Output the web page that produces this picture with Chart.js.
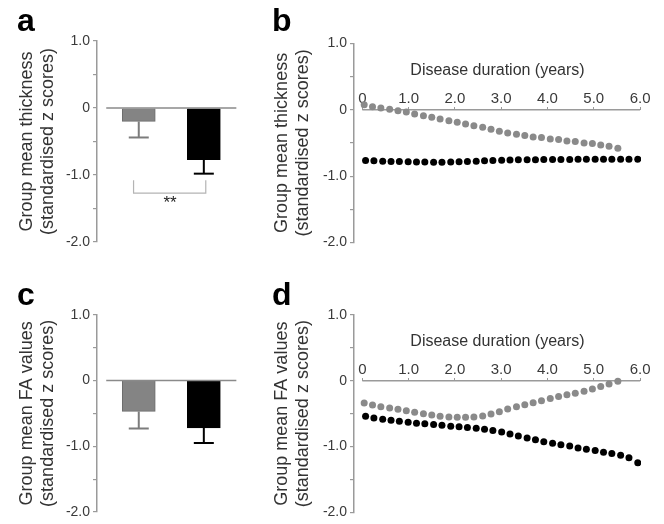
<!DOCTYPE html>
<html><head><meta charset="utf-8">
<script src="https://cdn.jsdelivr.net/npm/chart.js@4.4.1/dist/chart.umd.min.js"></script>
<style>
html,body{margin:0;padding:0;background:#fff;}
#wrap{position:relative;width:664px;height:524px;overflow:hidden;background:#fff;}
canvas{position:absolute;}
</style></head><body>
<div id="wrap">
<canvas id="ca" width="255" height="262" style="left:0px;top:0px"></canvas>
<canvas id="cb" width="409" height="262" style="left:255px;top:0px"></canvas>
<canvas id="cc" width="255" height="250" style="left:0px;top:274px"></canvas>
<canvas id="cd" width="409" height="250" style="left:255px;top:274px"></canvas>
</div>
<script>
// ---------- data ----------
const barCategories = ['Group 1', 'Group 2'];
const thicknessMeans = [-0.20, -0.77];
const thicknessErrLow = [-0.44, -0.98];
const faMeans = [-0.47, -0.72];
const faErrLow = [-0.73, -0.95];

const sigBracketX = [0.92, 0.92, 2.03, 2.03];
const sigBracketY = [-1.08, -1.27, -1.27, -1.08];
const sigLabel = '**';
const sigLabelPos = [1.48, -1.43];

const yTickValues = [-2, -1.5, -1, -0.5, 0, 0.5, 1];
const yTickLabels = ['-2.0', '', '-1.0', '', '0', '', '1.0'];
const xTickValues = [0, 1, 2, 3, 4, 5, 6];
const xTickLabels = ['0', '1.0', '2.0', '3.0', '4.0', '5.0', '6.0'];

const durationGray = [0.04, 0.22, 0.40, 0.59, 0.77, 0.95, 1.13, 1.32, 1.50, 1.68, 1.87, 2.05, 2.23, 2.41, 2.60, 2.78,
  2.96, 3.14, 3.33, 3.51, 3.69, 3.87, 4.06, 4.24, 4.42, 4.60, 4.79, 4.97, 5.15, 5.33, 5.52];
const durationBlack = [0.07, 0.25, 0.44, 0.62, 0.80, 0.99, 1.17, 1.35, 1.54, 1.72, 1.91, 2.09, 2.27, 2.46, 2.64, 2.82,
  3.01, 3.19, 3.37, 3.56, 3.74, 3.92, 4.11, 4.29, 4.48, 4.66, 4.84, 5.03, 5.21, 5.39, 5.58, 5.76, 5.95];

const thickGray = [0.076, 0.045, 0.025, 0.005, -0.015, -0.035, -0.065, -0.09, -0.115, -0.14, -0.165, -0.19, -0.215, -0.24,
  -0.265, -0.295, -0.325, -0.35, -0.37, -0.39, -0.41, -0.42, -0.44, -0.45, -0.47, -0.48, -0.50, -0.51, -0.53, -0.55, -0.58];
const thickBlack = [-0.765, -0.77, -0.775, -0.78, -0.782, -0.785, -0.787, -0.789, -0.79, -0.79, -0.788, -0.785, -0.78,
  -0.775, -0.77, -0.765, -0.76, -0.757, -0.755, -0.753, -0.752, -0.751, -0.75, -0.75, -0.749, -0.748, -0.748, -0.747,
  -0.747, -0.746, -0.746, -0.745, -0.745];

const faGray = [-0.34, -0.37, -0.395, -0.415, -0.435, -0.455, -0.48, -0.50, -0.52, -0.54, -0.55, -0.555, -0.555, -0.55,
  -0.535, -0.505, -0.47, -0.43, -0.395, -0.365, -0.335, -0.305, -0.27, -0.24, -0.215, -0.19, -0.16, -0.125, -0.09, -0.05, -0.01];
const faBlack = [-0.54, -0.565, -0.585, -0.60, -0.615, -0.63, -0.645, -0.655, -0.665, -0.675, -0.69, -0.70, -0.71, -0.72,
  -0.735, -0.755, -0.78, -0.81, -0.84, -0.87, -0.895, -0.925, -0.95, -0.97, -0.99, -1.02, -1.04, -1.06, -1.085, -1.105,
  -1.13, -1.17, -1.245];

const titleThickness = ['Group mean thickness', '(standardised z scores)'];
const titleFA = ['Group mean FA values', '(standardised z scores)'];
const xTitle = 'Disease duration (years)';

// ---------- styles ----------
const FONT = "'Liberation Sans', Arial, Helvetica, sans-serif";
Chart.defaults.font.family = FONT;
Chart.defaults.color = '#333';
Chart.defaults.animation = false;

const GRAY = '#8a8a8a';
const AXIS = '#9a9a9a';
const barFill = ['#848484', '#000000'];
const barEdge = ['#6c6c6c', '#000000'];
const errColor = ['#7c7c7c', '#000000'];

function yAxis(titleLines, yWidth) {
  return {
    type: 'linear', min: -2, max: 1, position: 'left',
    afterBuildTicks: s => { s.ticks = yTickValues.map(v => ({ value: v })); },
    afterFit: s => { s.width = yWidth; },
    grid: { display: true, drawOnChartArea: false, drawTicks: true, tickLength: 4, color: AXIS, lineWidth: 1.2 },
    border: { display: true, color: AXIS, width: 1.5 },
    ticks: { padding: 3, font: { size: 14 }, color: '#3a3a3a', autoSkip: false, callback: (v, i) => yTickLabels[i] },
    title: { display: true, text: titleLines, font: { size: 18, lineHeight: 1.15 }, color: '#333', padding: { top: 0, bottom: 0 } }
  };
}

function letterTitle(letter, padBottom) {
  return { display: true, text: letter, align: 'start', color: '#000',
    font: { size: 32, weight: 'bold', lineHeight: 1.2 }, padding: { top: 3, bottom: padBottom } };
}

const sigTextPlugin = {
  id: 'sigText',
  afterDatasetsDraw(chart, args, opts) {
    if (!opts || !opts.text) return;
    const { ctx, scales } = chart;
    ctx.save();
    ctx.font = '17px ' + FONT;
    ctx.fillStyle = '#222';
    ctx.textAlign = 'center';
    ctx.textBaseline = 'middle';
    ctx.fillText(opts.text, scales.x.getPixelForValue(opts.pos[0]), scales.y.getPixelForValue(opts.pos[1]));
    ctx.restore();
  }
};

function barPanel(id, letter, titleLines, means, errLow, withSig, padBottomTitle, layoutBottom) {
  const xs = barCategories.map((_, i) => i + 1);
  const datasets = [
    { type: 'line', data: [{ x: 0.5, y: 0 }, { x: barCategories.length + 0.5, y: 0 }],
      borderColor: GRAY, borderWidth: 1.5, pointRadius: 0, order: 1 },
    { type: 'bar', data: xs.map((x, i) => ({ x, y: means[i] })), backgroundColor: barFill, borderColor: barEdge,
      borderWidth: 1, barThickness: 33, grouped: false, order: 5 }
  ];
  xs.forEach((x, i) => {
    datasets.push({ type: 'line', data: [{ x, y: means[i] }, { x, y: errLow[i] }], borderColor: errColor[i],
      borderWidth: 2, pointStyle: 'line', pointRadius: [0, 10], pointBorderWidth: 2, pointBorderColor: errColor[i],
      pointBackgroundColor: errColor[i], order: 3 });
  });
  if (withSig) {
    datasets.push({ type: 'line', data: sigBracketX.map((x, i) => ({ x, y: sigBracketY[i] })),
      borderColor: '#b4b4b4', borderWidth: 1.2, pointRadius: 0, order: 4 });
  }
  new Chart(document.getElementById(id), {
    type: 'bar',
    data: { datasets },
    plugins: [sigTextPlugin],
    options: {
      responsive: false, events: [],
      layout: { padding: { left: 17, right: 18, top: 0, bottom: layoutBottom } },
      scales: {
        x: { type: 'linear', min: 0.358, max: 2.51, offset: false, display: false },
        y: yAxis(titleLines, 80)
      },
      plugins: { legend: { display: false }, tooltip: { enabled: false }, title: letterTitle(letter, padBottomTitle),
        sigText: withSig ? { text: sigLabel, pos: sigLabelPos } : {} }
    }
  });
}

function scatterPanel(id, letter, titleLines, grayVals, blackVals, padBottomTitle, layoutBottom) {
  const datasets = [
    { type: 'line', data: [{ x: xTickValues[0], y: 0 }, { x: xTickValues[xTickValues.length - 1], y: 0 }],
      borderColor: AXIS, borderWidth: 1.5, pointRadius: 0, order: 10 },
    { type: 'scatter', data: durationGray.map((x, i) => ({ x, y: grayVals[i] })), backgroundColor: GRAY,
      borderWidth: 0, pointRadius: 3.5, order: 2 },
    { type: 'scatter', data: durationBlack.map((x, i) => ({ x, y: blackVals[i] })), backgroundColor: '#000',
      borderWidth: 0, pointRadius: 3.5, order: 1 }
  ];
  new Chart(document.getElementById(id), {
    type: 'scatter',
    data: { datasets },
    options: {
      responsive: false, events: [],
      layout: { padding: { left: 17, right: 23, top: 0, bottom: layoutBottom } },
      scales: {
        x: {
          type: 'linear', min: -0.18, max: 6.02, position: { y: 0 },
          afterBuildTicks: s => { s.ticks = xTickValues.map(v => ({ value: v })); },
          afterFit: s => { s.height = 0; },
          grid: { display: true, drawOnChartArea: false, drawTicks: true, tickLength: -3, color: AXIS, lineWidth: 1 },
          border: { display: false },
          ticks: { padding: -17, font: { size: 15 }, color: '#3a3a3a', maxRotation: 0, autoSkip: false,
            callback: (v, i) => xTickLabels[i] },
          title: { display: true, text: xTitle, font: { size: 16, lineHeight: 1.2 }, color: '#333',
            padding: { top: 0, bottom: 29.4 } }
        },
        y: yAxis(titleLines, 82)
      },
      plugins: { legend: { display: false }, tooltip: { enabled: false }, title: letterTitle(letter, padBottomTitle) }
    }
  });
}

barPanel('ca', 'a', titleThickness, thicknessMeans, thicknessErrLow, true, -0.4, 20);
scatterPanel('cb', 'b', titleThickness, thickGray, thickBlack, 1.9, 19.5);
barPanel('cc', 'c', titleFA, faMeans, faErrLow, false, -0.7, 8);
scatterPanel('cd', 'd', titleFA, faGray, faBlack, -0.7, 8);
</script>
</body></html>
